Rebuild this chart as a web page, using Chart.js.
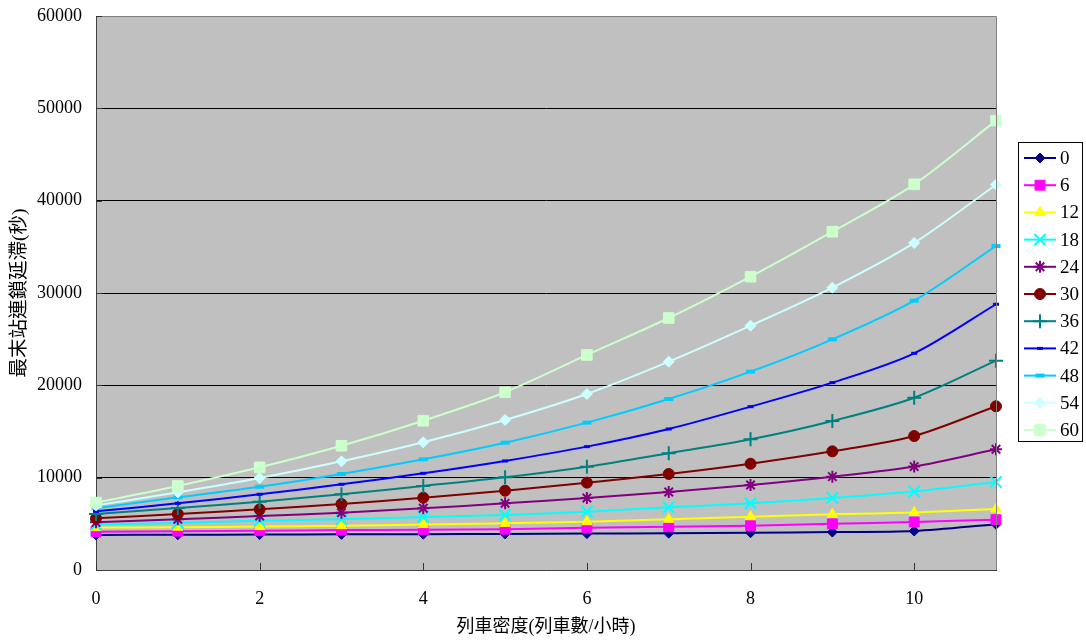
<!DOCTYPE html>
<html>
<head>
<meta charset="utf-8">
<script src="https://cdn.jsdelivr.net/npm/chart.js@4.4.0/dist/chart.umd.min.js"></script>
<style>
  html, body { margin: 0; padding: 0; background: #fff; }
  #wrap { width: 1086px; height: 643px; position: relative; }
</style>
</head>
<body>
<div id="wrap"><canvas id="delayChart"></canvas></div>
<script>
// 列車密度 (x) and one array per 延滯 series
const trainDensity = [0, 1, 2, 3, 4, 5, 6, 7, 8, 9, 10, 11];
const seriesNames = ['0', '6', '12', '18', '24', '30', '36', '42', '48', '54', '60'];

const delay0  = [3800, 3820, 3840, 3860, 3880, 3910, 3940, 3990, 4040, 4110, 4220, 4950];
const delay6  = [4150, 4200, 4260, 4320, 4370, 4420, 4570, 4680, 4800, 5000, 5200, 5450];
const delay12 = [4590, 4640, 4700, 4800, 4920, 5050, 5230, 5490, 5780, 6030, 6230, 6600];
const delay18 = [4900, 5100, 5340, 5490, 5750, 5960, 6320, 6790, 7220, 7800, 8500, 9530];
const delay24 = [5160, 5490, 5850, 6210, 6680, 7220, 7800, 8450, 9210, 10110, 11200, 13070];
const delay30 = [5600, 6070, 6570, 7150, 7830, 8590, 9460, 10400, 11510, 12850, 14510, 17730];
const delay36 = [6065, 6720, 7400, 8200, 9100, 10040, 11190, 12640, 14150, 16140, 18660, 22670];
const delay42 = [6350, 7220, 8200, 9280, 10470, 11810, 13360, 15270, 17690, 20290, 23470, 28780];
const delay48 = [6700, 7870, 9020, 10400, 11990, 13790, 15960, 18520, 21480, 24980, 29170, 35090];
const delay54 = [7000, 8410, 9960, 11770, 13830, 16250, 19060, 22560, 26460, 30580, 35420, 41730];
const delay60 = [7300, 9100, 11120, 13460, 16170, 19250, 23290, 27290, 31770, 36640, 41770, 48670];

const yTicks = [0, 10000, 20000, 30000, 40000, 50000, 60000];
const xTicks = [0, 2, 4, 6, 8, 10];

const allSeries = [delay0, delay6, delay12, delay18, delay24, delay30, delay36, delay42, delay48, delay54, delay60];

// marker look per series (Excel default palette)
const markerStyles = [
  { color: '#000080', style: 'rectRot',  radius: 5,   width: 1 },
  { color: '#FF00FF', style: 'rect',     radius: 7,   width: 1 },
  { color: '#FFFF00', style: 'triangle', radius: 6,   width: 1 },
  { color: '#00FFFF', style: 'crossRot', radius: 8,   width: 2 },
  { color: '#800080', style: 'star',     radius: 6,   width: 2 },
  { color: '#800000', style: 'circle',   radius: 5.5, width: 1 },
  { color: '#008080', style: 'cross',    radius: 7,   width: 2 },
  { color: '#0000FF', style: 'line',     radius: 3,   width: 3 },
  { color: '#00CCFF', style: 'line',     radius: 4.5, width: 4 },
  { color: '#CCFFFF', style: 'rectRot',  radius: 5.5, width: 1 },
  { color: '#CCFFCC', style: 'rect',     radius: 7.5, width: 1 }
];

const serif = '"Liberation Serif", "Times New Roman", serif';
const cjk = '"Liberation Serif", "Noto Sans CJK TC", serif';

const datasets = allSeries.map((values, i) => {
  const m = markerStyles[i];
  return {
    label: seriesNames[i],
    data: values.map((v, k) => ({ x: trainDensity[k], y: v })),
    borderColor: m.color,
    backgroundColor: m.color,
    borderWidth: 2,
    tension: 0.3,
    fill: false,
    clip: false,
    order: allSeries.length - i,
    pointStyle: m.style,
    pointRadius: m.radius,
    pointBackgroundColor: m.color,
    pointBorderColor: m.color,
    pointBorderWidth: m.width,
    pointHoverRadius: m.radius
  };
});

const plotBackground = {
  id: 'plotBackground',
  beforeDraw(chart) {
    const { ctx, chartArea: a } = chart;
    ctx.save();
    ctx.fillStyle = '#C0C0C0';
    ctx.fillRect(a.left, a.top, a.right - a.left, a.bottom - a.top);
    ctx.restore();
  },
  afterDraw(chart) {
    const { ctx, chartArea: a, scales } = chart;
    ctx.save();
    ctx.strokeStyle = '#808080';
    ctx.lineWidth = 1;
    ctx.beginPath();
    ctx.moveTo(a.left, a.top + 0.5);
    ctx.lineTo(a.right + 0.5, a.top + 0.5);
    ctx.lineTo(a.right + 0.5, a.bottom);
    ctx.stroke();
    // short inward tick marks
    ctx.strokeStyle = '#333';
    ctx.beginPath();
    xTicks.forEach(t => {
      const px = Math.round(scales.x.getPixelForValue(t)) + 0.5;
      ctx.moveTo(px, a.bottom);
      ctx.lineTo(px, a.bottom - 7);
    });
    yTicks.forEach(t => {
      const py = Math.round(scales.y.getPixelForValue(t)) + 0.5;
      ctx.moveTo(a.left, py);
      ctx.lineTo(a.left + 6, py);
    });
    ctx.stroke();
    ctx.restore();
  }
};

const sideLegend = {
  id: 'sideLegend',
  afterDraw(chart) {
    const { ctx } = chart;
    const box = { x: 1018.5, y: 142.5, w: 64, h: 299 };
    ctx.save();
    ctx.fillStyle = '#fff';
    ctx.fillRect(box.x, box.y, box.w, box.h);
    ctx.strokeStyle = '#000';
    ctx.lineWidth = 1;
    ctx.strokeRect(box.x, box.y, box.w, box.h);
    ctx.font = '19px ' + serif;
    ctx.textBaseline = 'middle';
    ctx.textAlign = 'left';
    chart.data.datasets.forEach((ds, i) => {
      const y = 158 + i * 27.2;
      ctx.strokeStyle = ds.borderColor;
      ctx.lineWidth = 2;
      ctx.beginPath();
      ctx.moveTo(1024, y);
      ctx.lineTo(1056, y);
      ctx.stroke();
      ctx.fillStyle = ds.pointBackgroundColor;
      ctx.strokeStyle = ds.pointBorderColor;
      ctx.lineWidth = ds.pointBorderWidth;
      Chart.helpers.drawPoint(ctx, {
        pointStyle: ds.pointStyle,
        radius: ds.pointRadius,
        borderWidth: ds.pointBorderWidth,
        rotation: 0
      }, 1040, y);
      ctx.fillStyle = '#000';
      ctx.fillText(ds.label, 1060, y + 1);
    });
    ctx.restore();
  }
};

new Chart(document.getElementById('delayChart').getContext('2d'), {
  type: 'line',
  data: { datasets },
  plugins: [plotBackground, sideLegend],
  options: {
    responsive: true,
    maintainAspectRatio: false,
    animation: false,
    events: [],
    layout: { padding: { top: 16, right: 90, left: 0, bottom: 0 } },
    plugins: {
      legend: { display: false },
      tooltip: { enabled: false }
    },
    scales: {
      x: {
        type: 'linear',
        min: 0,
        max: 11,
        afterFit: s => { s.height = 73; },
        ticks: {
          stepSize: 2,
          includeBounds: false,
          color: '#000',
          padding: 10,
          font: { family: serif, size: 18 }
        },
        grid: { display: false },
        border: { color: '#404040', width: 1 },
        title: {
          display: true,
          text: '列車密度(列車數/小時)',
          color: '#000',
          font: { family: cjk, size: 18 },
          padding: { top: 0, bottom: 5 }
        }
      },
      y: {
        min: 0,
        max: 60000,
        afterFit: s => { s.width = 96; },
        ticks: {
          stepSize: 10000,
          color: '#000',
          padding: 0,
          font: { family: serif, size: 18 },
          callback: v => String(v)
        },
        grid: {
          drawTicks: true,
          tickLength: 14,
          tickColor: 'rgba(0,0,0,0)',
          color: c => (c.tick && (c.tick.value === 60000 || c.tick.value === 0)) ? '#808080' : '#000',
          lineWidth: 1
        },
        border: { color: '#404040', width: 1 },
        title: {
          display: true,
          text: '最末站連鎖延滯(秒)',
          color: '#000',
          font: { family: cjk, size: 19.5 },
          padding: { top: 8, bottom: 0 }
        }
      }
    }
  }
});
</script>
</body>
</html>
